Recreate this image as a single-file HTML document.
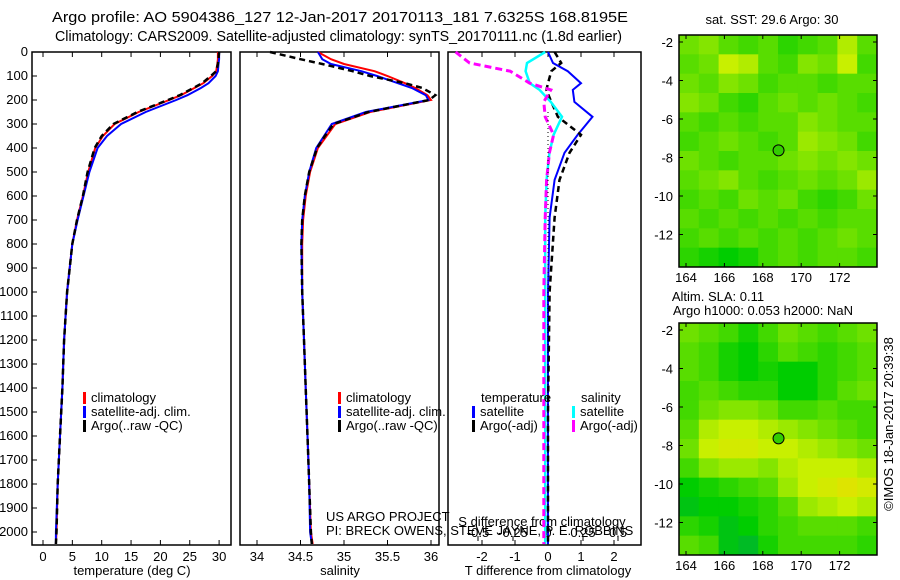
<!DOCTYPE html>
<html><head><meta charset="utf-8"><style>
body{margin:0;background:#fff;width:900px;height:580px;overflow:hidden}
svg{display:block;font-family:"Liberation Sans",sans-serif}
text{font-size:13px;fill:#000}
</style></head><body>
<svg id="s" width="900" height="580">
<text x="52" y="22" textLength="576" lengthAdjust="spacingAndGlyphs" style="font-size:14.5px">Argo profile: AO 5904386_127 12-Jan-2017 20170113_181 7.6325S 168.8195E</text>
<text x="55" y="41" textLength="567" lengthAdjust="spacingAndGlyphs" style="font-size:14.5px">Climatology: CARS2009. Satellite-adjusted climatology: synTS_20170111.nc (1.8d earlier)</text>
<text x="772" y="24" text-anchor="middle">sat. SST: 29.6  Argo: 30</text>
<text x="718" y="301" text-anchor="middle">Altim. SLA: 0.11</text>
<text x="763" y="315" text-anchor="middle">Argo h1000: 0.053 h2000: NaN</text>
<text transform="translate(893,424) rotate(-90)" text-anchor="middle">©IMOS 18-Jan-2017 20:39:38</text>
<text x="326" y="521">US ARGO PROJECT</text>
<text x="326" y="535">PI: BRECK OWENS, STEVE JAYNE, P. E. ROBBINS</text>
</svg>
<script>
// ---- data ----
const depths=[0,30,50,80,100,130,150,180,200,250,300,350,400,500,600,700,800,1000,1200,1400,1600,1800,2000,2050];
const tempClim=[29.8,29.8,29.7,29.5,28.8,27.3,25.8,23.5,21.5,16.3,12.2,10.2,8.9,7.7,6.8,5.8,5,4.1,3.6,3.3,2.9,2.5,2.3,2.2];
const tempSat=[30,30,29.9,29.8,29.4,28.2,26.9,24.6,22.7,17.5,13.3,10.9,9.3,7.9,6.9,5.9,5,4.1,3.6,3.3,2.9,2.5,2.2,2.2];
const tempArgo=[30,29.9,29.8,29.5,28.6,27.1,25.6,23.3,21.3,16.1,12,10,8.8,7.6,6.8,5.8,5,4.1,3.6,3.3,2.9,2.5,2.3,2.2];
const salClim=[34.7,34.85,35.0,35.35,35.5,35.7,35.82,35.96,36.0,35.3,34.9,34.8,34.7,34.61,34.56,34.53,34.52,34.52,34.54,34.56,34.58,34.6,34.62,34.64];
const salSat=[34.7,34.75,34.85,35.2,35.38,35.62,35.78,35.94,35.97,35.25,34.86,34.77,34.68,34.6,34.55,34.52,34.51,34.52,34.54,34.56,34.58,34.6,34.61,34.63];
const salArgo=[34.15,34.5,34.75,35.1,35.3,35.7,35.9,36.05,35.98,35.28,34.88,34.78,34.69,34.6,34.55,34.52,34.51,34.52,34.54,34.56,34.58,34.6,34.62,34.63];
const diffDepths=[0,46,80,130,158,208,270,345,420,533,690,1000,1500,2050];
const tDiffSat=[0,0.15,0.6,1.0,0.75,0.8,1.35,0.9,0.5,0.2,0.05,0,0,0];
const tDiffArgo=[0.2,0.4,0.1,0,-0.05,0.1,0.3,1.0,0.65,0.35,0.2,0.05,0,0];
const sDiffSat=[-0.02,-0.15,-0.16,-0.13,-0.06,0.02,0.1,0.04,0.01,-0.01,-0.02,-0.02,-0.02,-0.02];
const sDiffArgo=[-0.66,-0.56,-0.27,-0.13,0.02,-0.03,-0.02,0.04,0.01,-0.01,-0.02,-0.03,-0.03,-0.03];
const depthTicks=[0,100,200,300,400,500,600,700,800,900,1000,1100,1200,1300,1400,1500,1600,1700,1800,1900,2000];
const tempTicks=[0,5,10,15,20,25,30];
const salTicks=[34,34.5,35,35.5,36];
const tdTicks=[-2,-1,0,1,2];
const sdTicks=[-0.5,-0.25,0,0.25,0.5];
const lonTicks=[164,166,168,170,172];
const latTicks=[-2,-4,-6,-8,-10,-12];
const sstGrid=[
[0.55,0.6,0.5,0.45,0.5,0.4,0.45,0.5,0.7,0.5],
[0.5,0.55,0.75,0.7,0.5,0.45,0.6,0.55,0.75,0.45],
[0.55,0.5,0.6,0.55,0.45,0.5,0.5,0.45,0.5,0.5],
[0.6,0.55,0.45,0.4,0.5,0.55,0.5,0.55,0.5,0.45],
[0.5,0.45,0.5,0.45,0.5,0.5,0.6,0.55,0.5,0.5],
[0.45,0.5,0.55,0.5,0.45,0.5,0.65,0.6,0.55,0.45],
[0.55,0.5,0.45,0.5,0.5,0.55,0.6,0.55,0.6,0.55],
[0.5,0.55,0.6,0.5,0.45,0.5,0.55,0.5,0.55,0.65],
[0.45,0.5,0.45,0.55,0.5,0.55,0.45,0.4,0.45,0.55],
[0.5,0.45,0.5,0.45,0.5,0.45,0.5,0.45,0.5,0.5],
[0.45,0.5,0.45,0.5,0.45,0.5,0.45,0.5,0.55,0.5],
[0.4,0.35,0.3,0.35,0.45,0.5,0.45,0.5,0.5,0.45]];
const slaGrid=[
[0.55,0.5,0.45,0.35,0.45,0.55,0.5,0.45,0.5,0.55],
[0.5,0.45,0.35,0.3,0.4,0.5,0.45,0.4,0.45,0.5],
[0.5,0.45,0.35,0.3,0.35,0.3,0.3,0.4,0.45,0.5],
[0.45,0.5,0.45,0.4,0.4,0.3,0.3,0.4,0.5,0.55],
[0.45,0.55,0.6,0.6,0.55,0.45,0.45,0.5,0.45,0.45],
[0.5,0.7,0.75,0.75,0.7,0.65,0.6,0.55,0.5,0.45],
[0.55,0.75,0.8,0.8,0.75,0.75,0.7,0.65,0.6,0.55],
[0.45,0.6,0.65,0.65,0.6,0.7,0.75,0.75,0.75,0.7],
[0.3,0.35,0.4,0.45,0.5,0.65,0.75,0.8,0.85,0.8],
[0.25,0.3,0.3,0.35,0.4,0.5,0.65,0.7,0.75,0.7],
[0.4,0.35,0.25,0.3,0.4,0.45,0.5,0.5,0.5,0.45],
[0.5,0.45,0.25,0.2,0.35,0.45,0.45,0.45,0.45,0.4]];
const floatLon=168.82, floatLat=-7.63;

const S=document.getElementById('s'),NS='http://www.w3.org/2000/svg';
function mk(t,a,txt){const e=document.createElementNS(NS,t);for(const k in a)e.setAttribute(k,a[k]);if(txt!==undefined)e.textContent=txt;S.appendChild(e);return e;}
const yD=d=>52+d*0.24;
const PT={l:32,r:231},PS={l:240,r:439},PD={l:448,r:641},TOP=52,BOT=545;
const xT=v=>43+v*5.87, xS=v=>257+(v-34)*87, xTD=v=>548+v*33, xSD=v=>548+v*140;

function frame(P,name){const r=mk('rect',{x:P.l,y:TOP,width:P.r-P.l,height:BOT-TOP,fill:'none',stroke:'#000','stroke-width':1.5});
}
frame(PT,'temperature-panel');frame(PS,'salinity-panel');frame(PD,'difference-panel');
depthTicks.forEach(d=>{const y=yD(d);mk('line',{x1:PT.l,x2:PT.l+5,y1:y,y2:y,stroke:'#000'});
const t=mk('text',{x:PT.l-4,y:y+4,'text-anchor':'end'},String(d));
});
function xticks(ticks,f,fmt,yb,top){ticks.forEach(v=>{const x=f(v);mk('line',{x1:x,x2:x,y1:yb,y2:yb-5,stroke:'#000'});
if(!top)mk('line',{x1:x,x2:x,y1:TOP,y2:TOP+5,stroke:'#000'});
const t=mk('text',{x:x,y:yb+(top?-4:16),'text-anchor':'middle'},fmt(v));
});}
xticks(tempTicks,xT,String,BOT);xticks(salTicks,xS,String,BOT);xticks(tdTicks,xTD,String,BOT);
xticks(sdTicks,xSD,v=>String(v),BOT-4,true);
[['temperature (deg C)',132],['salinity',340],['T difference from climatology',548]].forEach(([s,x])=>{
const t=mk('text',{x:x,y:575,'text-anchor':'middle'},s);});
{const t=mk('text',{x:542,y:526,'text-anchor':'middle'},'S difference from climatology');}

function line(xs,ds,fx,col,dash,w,name){const p=xs.map((v,i)=>fx(v).toFixed(1)+','+yD(ds[i]).toFixed(1)).join(' ');
const e=mk('polyline',{points:p,fill:'none',stroke:col,'stroke-width':w||2});if(dash)e.setAttribute('stroke-dasharray',dash);
}
line(tempClim,depths,xT,'#f00',null,2,'temp-climatology-line');
line(tempSat,depths,xT,'#00f',null,2,'temp-satellite-line');
line(tempArgo,depths,xT,'#000','6,4',2.5,'temp-argo-line');
line(salClim,depths,xS,'#f00',null,2,'sal-climatology-line');
line(salSat,depths,xS,'#00f',null,2,'sal-satellite-line');
line(salArgo,depths,xS,'#000','6,4',2.5,'sal-argo-line');
line(tDiffSat,diffDepths,xTD,'#00f',null,2,'tdiff-satellite-line');
line(tDiffArgo,diffDepths,xTD,'#000','6,4',2.5,'tdiff-argo-line');
line(sDiffSat,diffDepths,xSD,'#0ff',null,2.5,'sdiff-satellite-line');
line(sDiffArgo,diffDepths,xSD,'#f0f','7,4',3,'sdiff-argo-line');
mk('line',{x1:xTD(0),x2:xTD(0),y1:yD(250),y2:yD(2050),stroke:'#000','stroke-dasharray':'1,3'});

function legend(x,y,items,name){items.forEach((it,i)=>{mk('rect',{x:x,y:y+i*14-10,width:3,height:12,fill:it[1]});
const t=mk('text',{x:x+8,y:y+i*14},it[0]);});}
legend(83,402,[['climatology','#f00'],['satellite-adj. clim.','#00f'],['Argo(..raw -QC)','#000']],'temp-legend-entry');
legend(338,402,[['climatology','#f00'],['satellite-adj. clim.','#00f'],['Argo(..raw -QC)','#000']],'sal-legend-entry');
{const t=mk('text',{x:481,y:402},'temperature');
const u=mk('text',{x:581,y:402},'salinity');}
legend(472,416,[['satellite','#00f'],['Argo(-adj)','#000']],'tdiff-legend-entry');
legend(572,416,[['satellite','#0ff'],['Argo(-adj)','#f0f']],'sdiff-legend-entry');

function cmap(v){const st=[[0,[0,150,110]],[0.3,[0,205,0]],[0.55,[110,225,0]],[0.75,[200,240,0]],[1,[255,210,0]]];
for(let i=1;i<st.length;i++){if(v<=st[i][0]){const a=st[i-1],b=st[i],f=(v-a[0])/(b[0]-a[0]);
return 'rgb('+a[1].map((c,k)=>Math.round(c+(b[1][k]-c)*f)).join(',')+')';}}return 'rgb(255,210,0)';}
function map(grid,top,name){const L=679,R=877,B=top+232,lonX=v=>686+(v-164)*19.2,latY=v=>top+7+(-2-v)*19.25;
const nr=grid.length,nc=grid[0].length,cw=(R-L)/nc,ch=(B-top)/nr;
grid.forEach((row,j)=>row.forEach((v,i)=>{const c=mk('rect',{x:L+i*cw,y:top+j*ch,width:cw+0.5,height:ch+0.5,fill:cmap(v)});
}));
const f=mk('rect',{x:L,y:top,width:R-L,height:B-top,fill:'none',stroke:'#000','stroke-width':1.5});

lonTicks.forEach(v=>{const x=lonX(v);mk('line',{x1:x,x2:x,y1:B,y2:B-4,stroke:'#000'});mk('line',{x1:x,x2:x,y1:top,y2:top+4,stroke:'#000'});
const t=mk('text',{x:x,y:B+15,'text-anchor':'middle'},String(v));});
latTicks.forEach(v=>{const y=latY(v);mk('line',{x1:L,x2:L+4,y1:y,y2:y,stroke:'#000'});mk('line',{x1:R,x2:R-4,y1:y,y2:y,stroke:'#000'});
const t=mk('text',{x:L-6,y:y+5,'text-anchor':'end'},String(v));});
const c=mk('circle',{cx:lonX(floatLon),cy:latY(floatLat),r:5.5,fill:'#33cc00',stroke:'#000'});
}
map(sstGrid,35,'sst-map');map(slaGrid,323,'sla-map');
</script>
</body></html>
